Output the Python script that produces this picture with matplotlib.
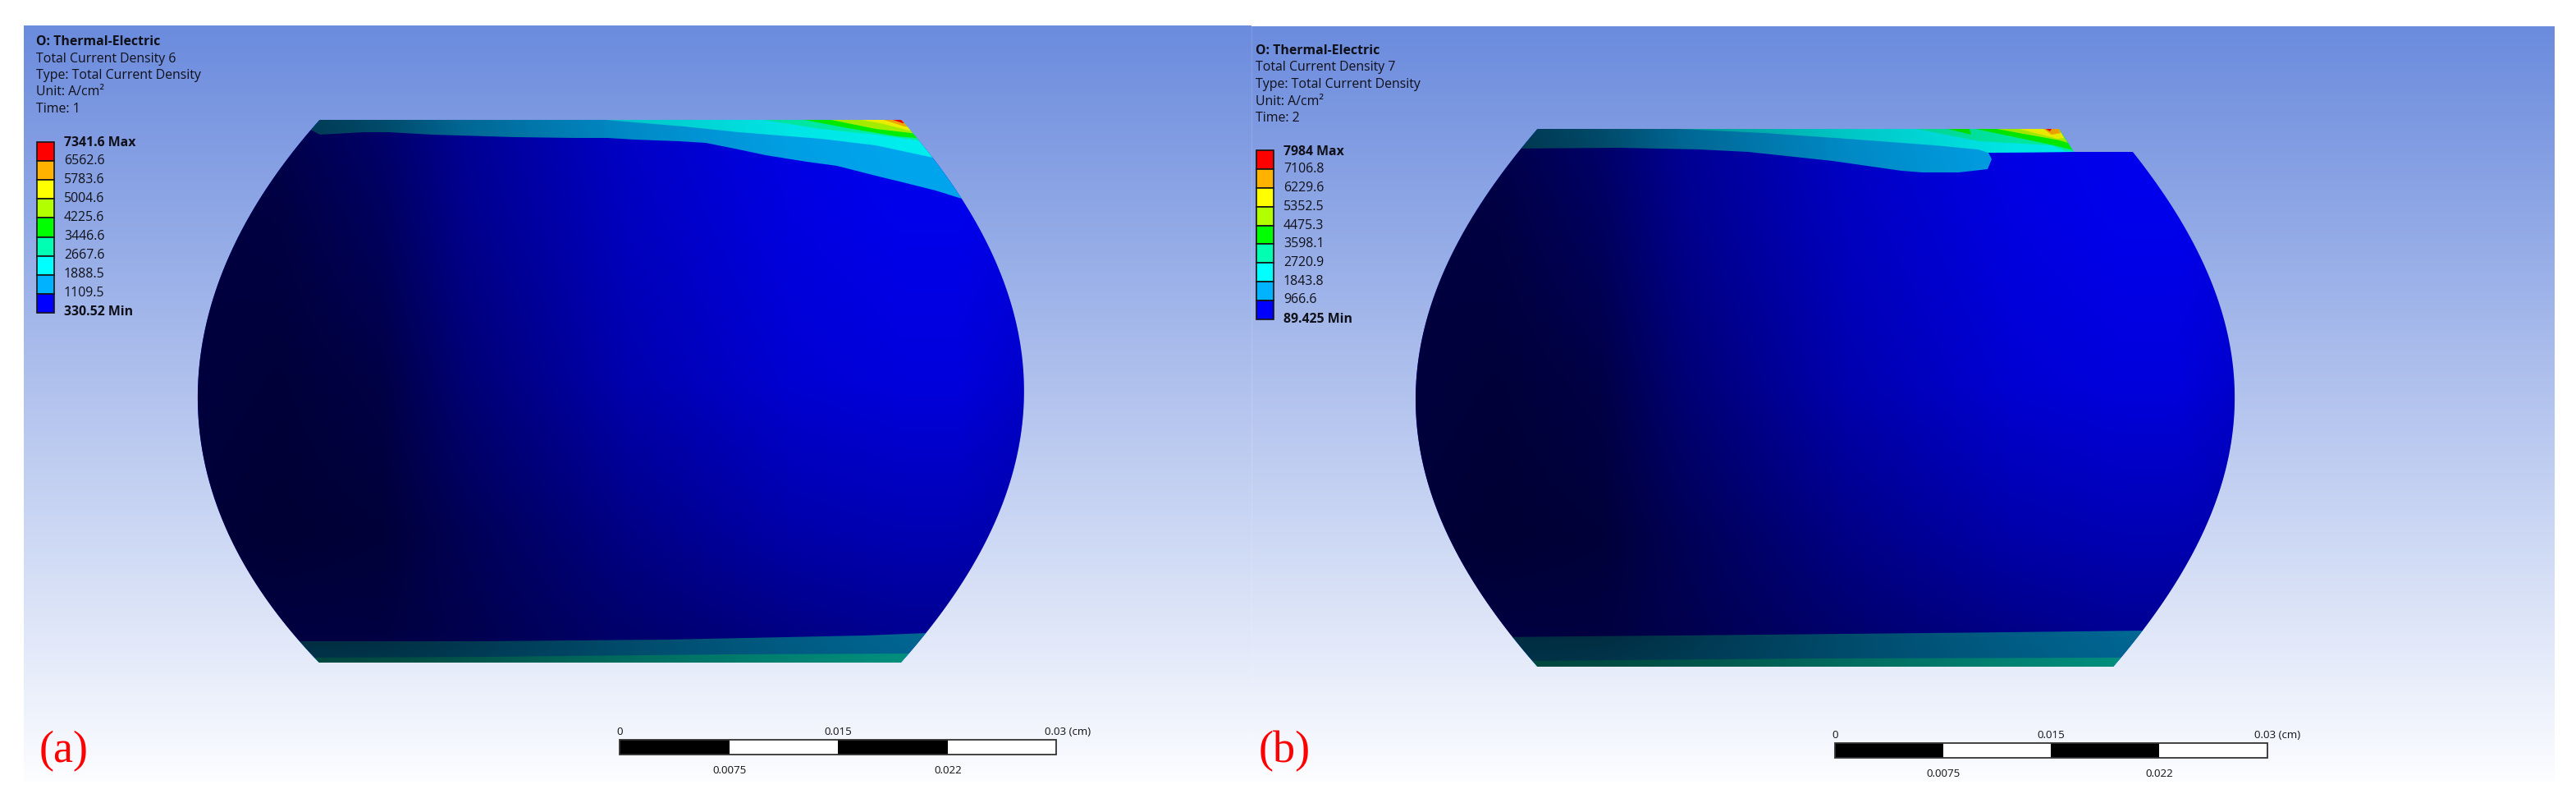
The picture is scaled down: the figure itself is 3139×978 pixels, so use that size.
import numpy as np
import matplotlib
matplotlib.use("Agg")
import matplotlib.pyplot as plt
from matplotlib.colors import LinearSegmentedColormap
from matplotlib.patches import Polygon, Rectangle

W, H = 3139, 979
FONT = "Open Sans"

# ---------- text content ----------
TITLE_A = ["O: Thermal-Electric", "Total Current Density 6", "Type: Total Current Density", "Unit: A/cm²", "Time: 1"]
TITLE_B = ["O: Thermal-Electric", "Total Current Density 7", "Type: Total Current Density", "Unit: A/cm²", "Time: 2"]
LEVELS_A = ["7341.6 Max", "6562.6", "5783.6", "5004.6", "4225.6", "3446.6", "2667.6", "1888.5", "1109.5", "330.52 Min"]
LEVELS_B = ["7984 Max", "7106.8", "6229.6", "5352.5", "4475.3", "3598.1", "2720.9", "1843.8", "966.6", "89.425 Min"]
LEVEL_COLORS = ["#ff0000", "#ffb200", "#ffff00", "#b2ff00", "#00ff00", "#00ffb2", "#00ffff", "#00b2ff", "#0000ff"]
SCALE_TOP = ["0", "0.015", "0.03 (cm)"]
SCALE_BOTTOM = ["0.0075", "0.022"]

# ---------- specimen outlines (left and right profile) ----------
LEFT_A = [(389, 147), (374, 166), (330, 221), (297, 277), (270, 340), (250, 398), (240, 465), (247, 554), (270, 625), (304, 701), (337, 750), (367, 783), (389, 808)]
RIGHT_A = [(1098, 808), (1127, 773), (1167, 719), (1208, 648), (1238, 558), (1248, 465), (1238, 393), (1214, 322), (1172, 243), (1137, 194), (1115, 166), (1098, 147)]
LEFT_B = [(1873, 158), (1855, 181), (1800, 256), (1767, 314), (1743, 377), (1725, 475), (1733, 564), (1760, 640), (1800, 720), (1844, 776), (1873, 813)]
RIGHT_B = [(2575, 813), (2611, 769), (2651, 711), (2691, 635), (2714, 564), (2723, 475), (2711, 394), (2684, 319), (2651, 260), (2599, 186)]
NOTCH_B = [(2527, 186), (2509, 158)]

# ---------- contour bands, each closed toward the upper right ----------
BANDS_A = [
    (7, [(340, 150), (380, 160), (390, 165), (443, 162), (473, 162), (527, 165), (627, 168), (700, 169), (740, 169), (773, 171), (827, 173), (860, 175), (900, 183), (933, 190), (983, 198), (1020, 203), (1067, 215), (1100, 223), (1140, 233), (1172, 243), (1300, 285)]),
    (6, [(737, 147), (833, 155), (900, 162), (1000, 170), (1067, 178), (1137, 193), (1200, 210)]),
    (5, [(930, 147), (1000, 158), (1067, 165), (1117, 172), (1200, 190)]),
    (4, [(980, 147), (1033, 157), (1093, 167), (1115, 169), (1200, 185)]),
    (3, [(1013, 147), (1067, 158), (1110, 163), (1200, 175)]),
    (2, [(1050, 147), (1077, 152), (1108, 160), (1200, 175)]),
    (1, [(1077, 147), (1102, 155), (1200, 170)]),
    (0, [(1088, 147), (1100, 151), (1200, 160)]),
]
BANDS_B = [
    (7, [(1840, 182), (1973, 181), (2070, 183), (2130, 186), (2233, 197), (2317, 209), (2343, 211), (2387, 211), (2422, 207), (2427, 195), (2423, 187), (2527, 186)]),
    (6, [(2023, 157), (2150, 163), (2250, 170), (2357, 178), (2410, 183), (2423, 187), (2527, 186)]),
    (5, [(2330, 157), (2402, 171), (2412, 173), (2500, 178), (2517, 185), (2540, 186)]),
]
PATCHES_B = [
    (4, [(2373, 158), (2400, 158), (2402, 165)]),
    (4, [(2407, 158), (2503, 178), (2527, 184), (2509, 158)]),
    (3, [(2433, 158), (2510, 172), (2520, 175), (2509, 158)]),
    (2, [(2460, 158), (2507, 170), (2515, 169), (2509, 158)]),
    (1, [(2490, 158), (2500, 165), (2511, 163), (2509, 158)]),
    (0, [(2493, 158), (2500, 158), (2498, 161)]),
]
BOTTOM_A = [
    ("#00b2ff", [(340, 782), (584, 782), (813, 780), (1053, 775), (1129, 772), (1180, 770)]),
    ("#00ffe0", [(370, 802), (593, 801), (880, 798), (1110, 797), (1180, 796)]),
]
BOTTOM_B = [
    ("#00b2ff", [(1820, 777), (2146, 774), (2447, 771), (2611, 769), (2680, 768)]),
    ("#00ffe0", [(1850, 806), (2206, 803), (2576, 802), (2680, 801)]),
]

# ---------- surface brightness read at grid points (panel a coordinates) ----------
SHADE_X = [230, 340, 465, 565, 765, 967, 1100, 1167, 1260]
SHADE_Y = [140, 250, 465, 650, 770, 815]
SHADE = [
    [0.25, 0.30, 0.42, 0.58, 0.78, 0.90, 0.93, 0.93, 0.90],
    [0.24, 0.26, 0.37, 0.55, 0.75, 0.88, 0.92, 0.92, 0.88],
    [0.24, 0.22, 0.27, 0.45, 0.68, 0.82, 0.86, 0.86, 0.78],
    [0.22, 0.20, 0.22, 0.33, 0.52, 0.66, 0.70, 0.70, 0.66],
    [0.26, 0.25, 0.25, 0.30, 0.42, 0.52, 0.57, 0.57, 0.55],
    [0.28, 0.28, 0.30, 0.33, 0.42, 0.50, 0.55, 0.55, 0.55],
]
PANEL_B_SHIFT = 1485

fig = plt.figure(figsize=(W / 100, H / 100), dpi=100, facecolor="white")
ax = fig.add_axes([0, 0, 1, 1])
ax.set_axis_off()

sky = LinearSegmentedColormap.from_list("sky", ["#6b8bdd", "#fcfdff"])
column = np.linspace(0, 1, 256)[:, None]
ax.imshow(column, cmap=sky, extent=(29, 1525, 953, 32), aspect="auto", zorder=0)
ax.imshow(column, cmap=sky, extent=(1525, 3113, 953, 33), aspect="auto", zorder=0)
ax.plot([1524.5, 1524.5], [33, 953], color="white", alpha=0.12, lw=1, zorder=0.5)


def smooth(points, deg=4):
    pts = np.array(points, float)
    coef = np.polyfit(pts[:, 1], pts[:, 0], deg)
    yy = np.linspace(pts[0, 1], pts[-1, 1], 200)
    return np.column_stack([np.polyval(coef, yy), yy])


def shade_image():
    grid = np.array(SHADE)
    xf = np.linspace(SHADE_X[0], SHADE_X[-1], 300)
    yf = np.linspace(SHADE_Y[0], SHADE_Y[-1], 300)
    by_x = np.array([np.interp(xf, SHADE_X, row) for row in grid])
    fine = np.array([np.interp(yf, SHADE_Y, by_x[:, j]) for j in range(len(xf))]).T
    rgba = np.zeros(fine.shape + (4,))
    rgba[..., 3] = 1 - fine
    return rgba


SHADE_RGBA = shade_image()


def specimen(left, right, extra, bands, patches, bottom, shift):
    outline_pts = np.vstack([smooth(left), smooth(right), np.array(extra, float).reshape(-1, 2)])
    outline = Polygon(outline_pts, closed=True, facecolor="#0000ff", edgecolor="none", zorder=1)
    ax.add_patch(outline)
    top = min(p[1] for p in left) - 30
    polys = []
    for lev, pts in bands:
        p = list(pts)
        polys.append((LEVEL_COLORS[lev], p + [(p[-1][0], top), (p[0][0], top)]))
    for lev, pts in patches:
        polys.append((LEVEL_COLORS[lev], list(pts)))
    for col, pts in bottom:
        p = list(pts)
        polys.append((col, p + [(p[-1][0], 850), (p[0][0], 850)]))
    for col, pts in polys:
        patch = Polygon(pts, closed=True, facecolor=col, edgecolor="none", zorder=1.2)
        ax.add_patch(patch)
        patch.set_clip_path(outline)
    dy = 5 if shift else 0
    im = ax.imshow(SHADE_RGBA, extent=(SHADE_X[0] + shift, SHADE_X[-1] + shift, SHADE_Y[-1] + dy, SHADE_Y[0] + dy),
                   aspect="auto", interpolation="bilinear", zorder=1.5)
    im.set_clip_path(outline)


specimen(LEFT_A, RIGHT_A, [], BANDS_A, [], BOTTOM_A, 0)
specimen(LEFT_B, RIGHT_B, NOTCH_B, BANDS_B, PATCHES_B, BOTTOM_B, PANEL_B_SHIFT)


def legend(x_text, y_title, titles, x_bar, x_bar2, y_bar, y_bar2, x_lab, y_lab, labels):
    for i, t in enumerate(titles):
        ax.text(x_text, y_title + i * 20.5, t, fontsize=11.4, family=FONT, va="center", ha="left",
                color="#101018", fontweight="bold" if i == 0 else "normal", zorder=5)
    edges = np.linspace(y_bar, y_bar2, len(LEVEL_COLORS) + 1)
    for c, a, b in zip(LEVEL_COLORS, edges[:-1], edges[1:]):
        ax.add_patch(Rectangle((x_bar, a), x_bar2 - x_bar, b - a, facecolor=c, edgecolor="#151515", lw=1.2, zorder=5))
    for i, (lab, y) in enumerate(zip(labels, y_lab)):
        bold = i in (0, len(labels) - 1)
        ax.text(x_lab, y, lab, fontsize=11.4, family=FONT, va="center", ha="left", color="#101018",
                fontweight="bold" if bold else "normal", zorder=5)


legend(44, 51, TITLE_A, 44.5, 65.5, 174, 382, 78,
       [174, 196, 219, 242, 265, 288, 311, 334, 357, 380], LEVELS_A)
legend(1530, 62, TITLE_B, 1531, 1552, 184, 390, 1564,
       [185, 206, 229, 252, 275, 297, 320, 343, 365, 389], LEVELS_B)


def scalebar(x0, x1, x2, x3, x4, y0, y1, ytop, ybot, x_last):
    for a, b, c in [(x0, x1, "black"), (x1, x2, "white"), (x2, x3, "black"), (x3, x4, "white")]:
        ax.add_patch(Rectangle((a, y0), b - a, y1 - y0, facecolor=c, edgecolor="none", zorder=5))
    ax.add_patch(Rectangle((x0, y0), x4 - x0, y1 - y0, facecolor="none", edgecolor="#333333", lw=1.3, zorder=5.1))
    kw = dict(fontsize=9.6, family=FONT, va="center", color="#111111", zorder=5)
    ax.text(x0, ytop, SCALE_TOP[0], ha="center", **kw)
    ax.text(x2, ytop, SCALE_TOP[1], ha="center", **kw)
    ax.text(x_last, ytop, SCALE_TOP[2], ha="left", **kw)
    ax.text(x1, ybot, SCALE_BOTTOM[0], ha="center", **kw)
    ax.text(x3, ybot, SCALE_BOTTOM[1], ha="center", **kw)


scalebar(755, 889, 1021, 1155, 1287, 902, 920, 892, 939, 1273)
scalebar(2236, 2368, 2499, 2631, 2763, 906, 924, 896, 943, 2747)

ax.text(78, 915, "(a)", fontsize=39, family="Liberation Serif", color="#ff0000", ha="center", va="center", zorder=6)
ax.text(1565, 915, "(b)", fontsize=39, family="Liberation Serif", color="#ff0000", ha="center", va="center", zorder=6)

ax.set_xlim(0, W)
ax.set_ylim(H, 0)
fig.savefig("out.png", dpi=100, facecolor="white")
